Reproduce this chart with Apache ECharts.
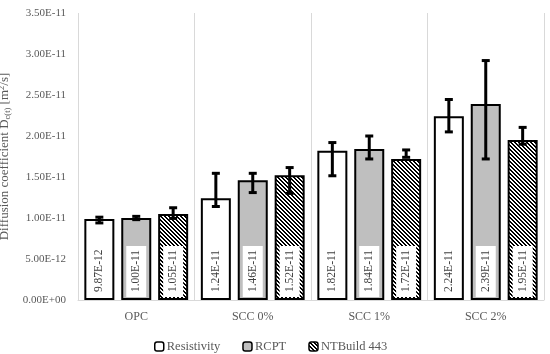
<!DOCTYPE html>
<html><head><meta charset="utf-8">
<script src="https://cdn.jsdelivr.net/npm/echarts@6/dist/echarts.min.js"></script>
<style>html,body{margin:0;padding:0;background:#fff}#c{width:550px;height:354px}</style>
</head><body><div id="c"></div>
<script>
const categories = ['OPC', 'SCC 0%', 'SCC 1%', 'SCC 2%'];
const seriesNames = ['Resistivity', 'RCPT', 'NTBuild 443'];
const resistivity = [9.87e-12, 1.24e-11, 1.82e-11, 2.24e-11];
const rcpt = [1.00e-11, 1.46e-11, 1.84e-11, 2.39e-11];
const ntbuild = [1.05e-11, 1.52e-11, 1.72e-11, 1.95e-11];
// error bar extents [low, high]
const resistivityErr = [[0.94e-11, 1.01e-11], [1.14e-11, 1.545e-11], [1.515e-11, 1.92e-11], [2.05e-11, 2.445e-11]];
const rcptErr = [[0.98e-11, 1.02e-11], [1.31e-11, 1.545e-11], [1.72e-11, 2.0e-11], [1.72e-11, 2.92e-11]];
const ntbuildErr = [[0.995e-11, 1.125e-11], [1.30e-11, 1.615e-11], [1.74e-11, 1.83e-11], [1.90e-11, 2.105e-11]];
const yTicks = { min: 0, max: 3.5e-11, interval: 0.5e-11 };

const FONT = '"Liberation Serif", "DejaVu Serif", serif';
const BAR_W = 30, BAR_GAP = 0.23;

function fmtExp(v) {
  if (v === 0) return '0.00E+00';
  const s = v.toExponential(2).toUpperCase();
  const m = s.match(/^(.*)E([+-])(\d+)$/);
  return m[1] + 'E' + m[2] + (m[3].length < 2 ? '0' + m[3] : m[3]);
}

// hatch pattern (\ diagonal)
const pc = document.createElement('canvas');
pc.width = 4; pc.height = 4;
const pctx = pc.getContext('2d');
pctx.fillStyle = '#fff'; pctx.fillRect(0, 0, 4, 4);
pctx.fillStyle = '#000';
for (let y = 0; y < 4; y++) for (let x = 0; x < 4; x++) {
  const d = ((x - y) % 4 + 4) % 4;
  if (d === 0 || d === 1) pctx.fillRect(x, y, 1, 1);
}
const hatch = { image: pc, repeat: 'repeat' };

const fills = ['#ffffff', '#bfbfbf', hatch];
const values = [resistivity, rcpt, ntbuild];
const errs = [resistivityErr, rcptErr, ntbuildErr];

const barSeries = seriesNames.map((n, i) => ({
  name: n, type: 'bar', barWidth: BAR_W, barGap: (BAR_GAP * 100) + '%',
  data: values[i],
  itemStyle: { color: fills[i], borderColor: '#000', borderWidth: 2 },
  label: {
    show: true, position: 'insideBottom', rotate: 90, align: 'left', verticalAlign: 'middle',
    distance: 3, formatter: p => fmtExp(p.value),
    fontFamily: FONT, fontSize: 11.5, color: '#404040', backgroundColor: '#fff', padding: [4, 4, 4, 5]
  },
  z: 2
}));

const errData = [];
errs.forEach((arr, si) => arr.forEach((e, ci) => errData.push([ci, si, e[0], e[1]])));

const errSeries = {
  name: 'err', type: 'custom', z: 5,
  data: errData,
  encode: { x: 0, y: [2, 3] },
  renderItem: (params, api) => {
    const ci = api.value(0), si = api.value(1);
    const step = BAR_W * (1 + BAR_GAP);
    const x = api.coord([ci, 0])[0] + (si - 1) * step;
    const yl = api.coord([ci, api.value(2)])[1];
    const yh = api.coord([ci, api.value(3)])[1];
    const st = { stroke: '#000', lineWidth: 3 };
    return { type: 'group', children: [
      { type: 'line', shape: { x1: x, y1: yl, x2: x, y2: yh }, style: st },
      { type: 'line', shape: { x1: x - 4, y1: yl, x2: x + 4, y2: yl }, style: st },
      { type: 'line', shape: { x1: x - 4, y1: yh, x2: x + 4, y2: yh }, style: st }
    ]};
  }
};

const chart = echarts.init(document.getElementById('c'));
chart.setOption({
  animation: false,
  grid: { left: 78, right: 6, top: 13, bottom: 54, containLabel: false, outerBoundsMode: 'none' },
  legend: {
    data: seriesNames, left: 149, top: 335, itemWidth: 9, itemHeight: 9, itemGap: 22,
    textStyle: { fontFamily: FONT, fontSize: 12.5, color: '#595959', padding: [0, 0, 0, -2] },
    itemStyle: { borderColor: '#000', borderWidth: 1.5 }
  },
  xAxis: {
    type: 'category', data: categories,
    axisLine: { show: true, lineStyle: { color: '#d9d9d9', width: 1 } },
    axisTick: { show: false },
    splitLine: { show: true, lineStyle: { color: '#d9d9d9', width: 1 } },
    axisLabel: { fontFamily: FONT, fontSize: 12, color: '#595959', margin: 11 }
  },
  yAxis: {
    type: 'value', min: yTicks.min, max: yTicks.max, interval: yTicks.interval,
    axisLine: { show: false }, axisTick: { show: false }, splitLine: { show: false },
    axisLabel: { fontFamily: FONT, fontSize: 11, color: '#595959', margin: 12, formatter: fmtExp },
    name: 'Diffusion coefficient D{sub|c(t)} [m{sup|2}/s]',
    nameLocation: 'middle', nameGap: 60,
    nameTextStyle: {
      fontFamily: FONT, fontSize: 13, color: '#595959',
      rich: {
        sub: { fontFamily: FONT, fontSize: 8.5, color: '#595959', verticalAlign: 'bottom', padding: [6, 0, 0, 0] },
        sup: { fontFamily: FONT, fontSize: 8.5, color: '#595959', verticalAlign: 'top', padding: [0, 0, 6, 0] }
      }
    }
  },
  series: [...barSeries, errSeries]
});
</script></body></html>
